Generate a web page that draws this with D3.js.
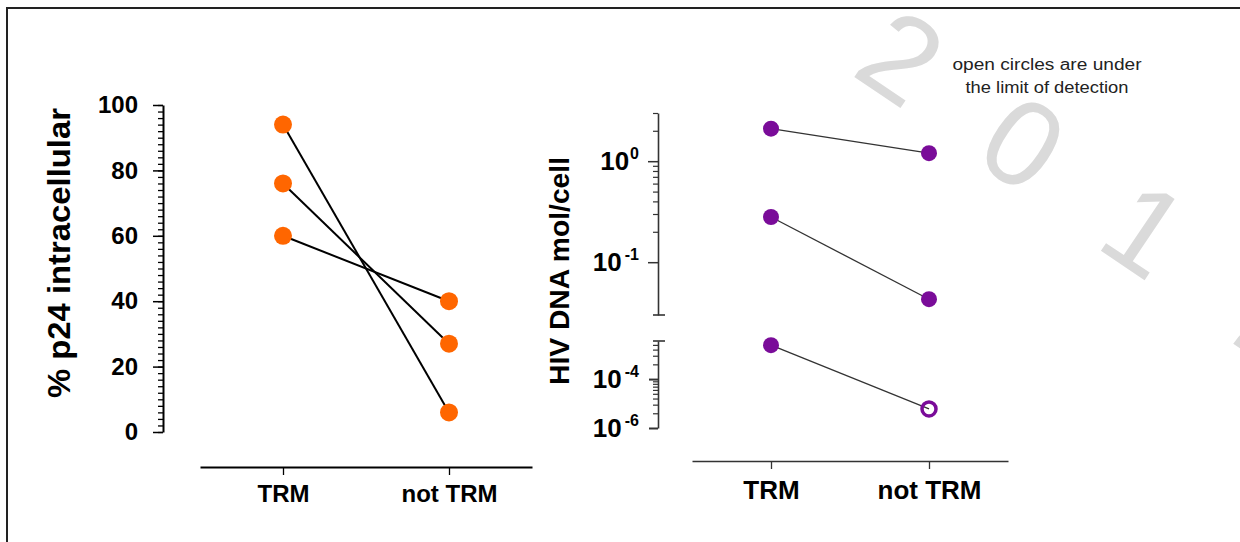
<!DOCTYPE html>
<html>
<head>
<meta charset="utf-8">
<script src="https://cdn.jsdelivr.net/npm/d3@7"></script>
<style>
  body { margin: 0; background: #fff; }
  svg { display: block; font-family: "Liberation Sans", Arial, sans-serif; }
</style>
</head>
<body>
<div id="chart"></div>
<script>

var categories = ['TRM', 'not TRM'];

// left panel: % p24 intracellular, one value per donor
var p24Trm = [94, 76, 60];
var p24NotTrm = [6, 27, 40];
var p24Ticks = [0, 20, 40, 60, 80, 100];

// right panel: HIV DNA mol/cell
var dnaTrm = [2.1, 0.28, 0.0024];
var dnaNotTrm = [1.2, 0.043, 0.000006];
var dnaNotTrmBelowLimit = [false, false, true];
var dnaTickExponents = [0, -1, -4, -6];

var noteLines = ['open circles are under', 'the limit of detection'];
var watermarkChars = ['2', '0', '1', '7'];

var orange = '#ff6600';
var purple = '#7a0c99';

var svg = d3.select('#chart')
    .append('svg')
    .attr('width', 1240)
    .attr('height', 542)
;

// faint watermark behind everything
svg.append('g')
    .selectAll('text')
    .data(watermarkChars)
    .enter()
    .append('text')
    .attr('transform', function (d, i) {
        return 'translate(' + (902 + i * 122) + ',' + (56 + i * 86) + ') rotate(34)';
    })
    .attr('text-anchor', 'middle')
    .attr('dy', '0.36em')
    .style('font-size', '122px')
    .style('fill', '#dadada')
    .text(function (d) { return d; })
;

// frame
svg.append('rect')
    .attr('x', 7)
    .attr('y', 8)
    .attr('width', 1300)
    .attr('height', 600)
    .attr('fill', 'none')
    .attr('stroke', '#222')
    .attr('stroke-width', 2)
;

function styleAxis(g, color, domainWidth, tickWidth) {
    g.select('.domain').attr('stroke', color).attr('stroke-width', domainWidth);
    g.selectAll('.tick line').attr('stroke', color).attr('stroke-width', tickWidth);
}

/* ---------- left panel ---------- */

var yP24 = d3.scaleLinear().domain([0, 100]).range([432, 105]);
var xLeft = d3.scalePoint().domain(categories).range([200, 532]).padding(0.5);

var yMinorLeft = svg.append('g')
    .attr('transform', 'translate(163,0)')
    .call(d3.axisLeft(yP24).tickValues(d3.range(0, 101, 2)).tickSize(5).tickFormat(''));
yMinorLeft.select('.domain').remove();
styleAxis(yMinorLeft, '#000', 2, 1.3);

var yAxisLeft = svg.append('g')
    .attr('transform', 'translate(163,0)')
    .call(d3.axisLeft(yP24).tickValues(p24Ticks).tickSize(10).tickSizeOuter(0).tickPadding(15));
styleAxis(yAxisLeft, '#000', 2, 1.5);
yAxisLeft.selectAll('text')
    .style('font-size', '24px')
    .style('font-weight', 'bold')
    .attr('fill', '#000')
;

var xAxisLeft = svg.append('g')
    .attr('transform', 'translate(0,467)')
    .call(d3.axisBottom(xLeft).tickSize(8).tickSizeOuter(0).tickPadding(10));
styleAxis(xAxisLeft, '#000', 2, 1.3);
xAxisLeft.selectAll('text')
    .style('font-size', '24px')
    .style('font-weight', 'bold')
    .attr('fill', '#000')
;

svg.append('text')
    .attr('transform', 'translate(70,253) rotate(-90)')
    .attr('text-anchor', 'middle')
    .attr('textLength', 290)
    .attr('lengthAdjust', 'spacingAndGlyphs')
    .style('font-size', '31px')
    .style('font-weight', 'bold')
    .text('% p24 intracellular')
;

var leftLine = d3.line()
    .x(function (d) { return xLeft(d.cat); })
    .y(function (d) { return yP24(d.v); });

p24Trm.forEach(function (v, i) {
    svg.append('path')
        .attr('d', leftLine([{cat: categories[0], v: v}, {cat: categories[1], v: p24NotTrm[i]}]))
        .attr('fill', 'none')
        .attr('stroke', '#000')
        .attr('stroke-width', 2)
    ;
});

[p24Trm, p24NotTrm].forEach(function (vals, c) {
    svg.append('g')
        .selectAll('circle')
        .data(vals)
        .enter()
        .append('circle')
        .attr('cx', xLeft(categories[c]))
        .attr('cy', function (d) { return yP24(d); })
        .attr('r', 9)
        .attr('fill', orange)
    ;
});

/* ---------- right panel (broken log axis) ---------- */

var yUpper = d3.scaleLog().domain([0.03, 3]).range([315, 113]);
var yLower = d3.scaleLog().domain([1e-6, 1e-4]).range([428, 379]);
// the lower segment's tick marks are spaced as one decade, as in the original
var lowerTickScale = d3.scaleLog().domain([1, 60]).range([428, 341]);
var xRight = d3.scalePoint().domain(categories).range([692, 1008]).padding(0.5);

function yDna(v) {
    return v >= 0.03 ? yUpper(v) : yLower(v);
}

var axisX = 658;
var axisColor = '#333';

var upMinor = svg.append('g')
    .attr('transform', 'translate(' + axisX + ',0)')
    .call(d3.axisLeft(yUpper).tickValues([0.2, 0.3, 0.4, 0.5, 0.6, 0.7, 0.8, 0.9, 2, 3]).tickSize(5).tickSizeOuter(0).tickFormat(''));
styleAxis(upMinor, axisColor, 1.6, 1.2);

var upMajor = svg.append('g')
    .attr('transform', 'translate(' + axisX + ',0)')
    .call(d3.axisLeft(yUpper).tickValues([1, 0.1]).tickSize(10).tickFormat(''));
upMajor.select('.domain').remove();
styleAxis(upMajor, axisColor, 1.6, 1.5);

var loMinor = svg.append('g')
    .attr('transform', 'translate(' + axisX + ',0)')
    .call(d3.axisLeft(lowerTickScale).tickValues([2, 3, 4, 5, 6, 7, 8, 9, 20, 30, 40, 50]).tickSize(5).tickSizeOuter(0).tickFormat(''));
styleAxis(loMinor, axisColor, 1.6, 1.2);

var loMajor = svg.append('g')
    .attr('transform', 'translate(' + axisX + ',0)')
    .call(d3.axisLeft(lowerTickScale).tickValues([1, 10]).tickSize(9).tickFormat(''));
loMajor.select('.domain').remove();
styleAxis(loMajor, axisColor, 1.6, 2);

// break caps
[yUpper(0.03), lowerTickScale(60)].forEach(function (y) {
    svg.append('line')
        .attr('x1', axisX - 5).attr('x2', axisX + 7)
        .attr('y1', y).attr('y2', y)
        .attr('stroke', axisColor)
        .attr('stroke-width', 1.6)
    ;
});

dnaTickExponents.forEach(function (e) {
    var v = Math.pow(10, e);
    var t = svg.append('text')
        .attr('x', 639)
        .attr('y', yDna(v) + 9)
        .attr('text-anchor', 'end')
        .style('font-size', '26px')
        .style('font-weight', 'bold')
        .text('10');
    t.append('tspan')
        .attr('dy', -11)
        .attr('dx', e < 0 ? 3 : 1)
        .style('font-size', '16px')
        .text(String(e));
});

var xAxisRight = svg.append('g')
    .attr('transform', 'translate(0,461)')
    .call(d3.axisBottom(xRight).tickSize(8).tickSizeOuter(0).tickPadding(12));
styleAxis(xAxisRight, axisColor, 1.6, 1.3);
xAxisRight.selectAll('text')
    .style('font-size', '26px')
    .style('font-weight', 'bold')
    .attr('fill', '#000')
;

svg.append('text')
    .attr('transform', 'translate(569,271) rotate(-90)')
    .attr('text-anchor', 'middle')
    .attr('textLength', 228)
    .attr('lengthAdjust', 'spacingAndGlyphs')
    .style('font-size', '28px')
    .style('font-weight', 'bold')
    .text('HIV DNA mol/cell')
;

dnaTrm.forEach(function (v, i) {
    svg.append('line')
        .attr('x1', xRight(categories[0])).attr('y1', yDna(v))
        .attr('x2', xRight(categories[1])).attr('y2', yDna(dnaNotTrm[i]))
        .attr('stroke', '#333')
        .attr('stroke-width', 1.3)
    ;
});

svg.append('g')
    .selectAll('circle')
    .data(dnaTrm)
    .enter()
    .append('circle')
    .attr('cx', xRight(categories[0]))
    .attr('cy', function (d) { return yDna(d); })
    .attr('r', 8)
    .attr('fill', purple)
;

svg.append('g')
    .selectAll('circle')
    .data(dnaNotTrm)
    .enter()
    .append('circle')
    .attr('cx', xRight(categories[1]))
    .attr('cy', function (d) { return yDna(d); })
    .attr('r', function (d, i) { return dnaNotTrmBelowLimit[i] ? 7 : 8; })
    .attr('fill', function (d, i) { return dnaNotTrmBelowLimit[i] ? 'none' : purple; })
    .attr('stroke', function (d, i) { return dnaNotTrmBelowLimit[i] ? purple : 'none'; })
    .attr('stroke-width', 3.5)
;

// note in the top right
svg.append('g')
    .selectAll('text')
    .data(noteLines)
    .enter()
    .append('text')
    .attr('x', 1047)
    .attr('y', function (d, i) { return 70 + i * 23; })
    .attr('text-anchor', 'middle')
    .attr('textLength', function (d, i) { return i === 0 ? 189 : 163; })
    .attr('lengthAdjust', 'spacingAndGlyphs')
    .style('font-size', '16px')
    .style('fill', '#222')
    .text(function (d) { return d; })
;

</script>
</body>
</html>
